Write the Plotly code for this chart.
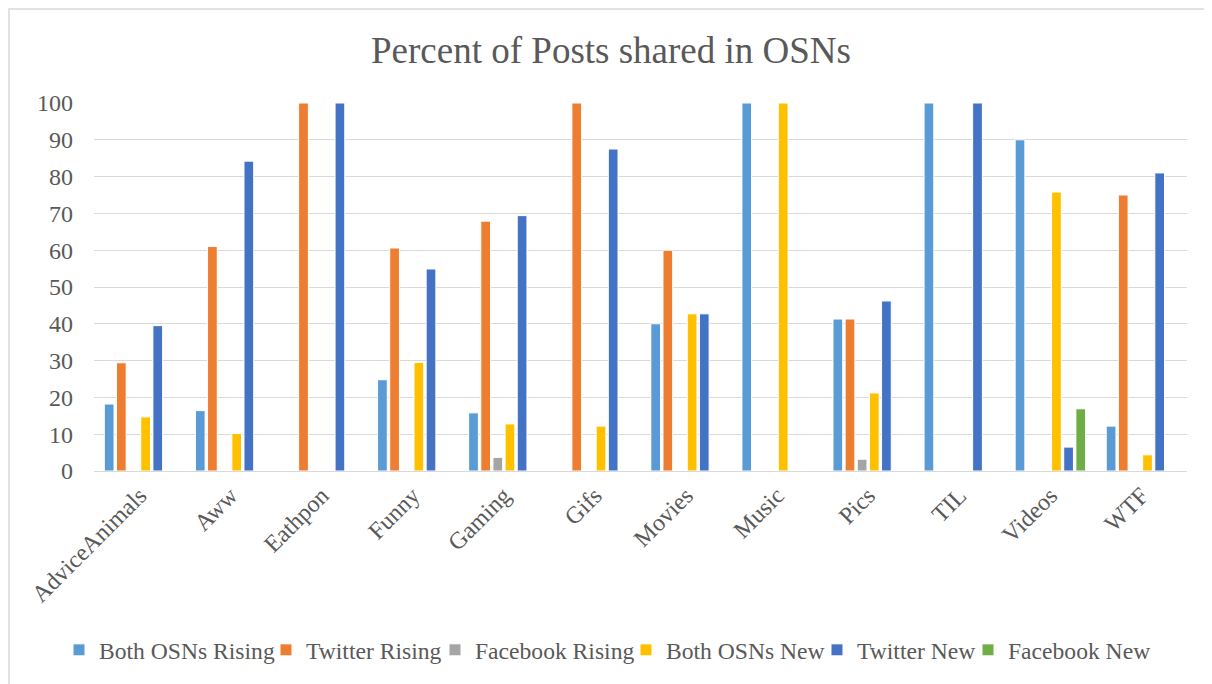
import plotly.graph_objects as go

categories = ["AdviceAnimals", "Aww", "Eathpon", "Funny", "Gaming", "Gifs",
              "Movies", "Music", "Pics", "TIL", "Videos", "WTF"]

both_rising = [18.2, 16.4, 0, 24.8, 15.8, 0, 40, 100, 41.3, 100, 90, 12.2]
twitter_rising = [29.4, 61, 100, 60.6, 67.9, 100, 60, 0, 41.3, 0, 0, 75]
facebook_rising = [0, 0, 0, 0, 3.7, 0, 0, 0, 3.2, 0, 0, 0]
both_new = [14.7, 10.2, 0, 29.5, 12.8, 12.2, 42.7, 100, 21.2, 0, 75.8, 4.4]
twitter_new = [39.5, 84.2, 100, 54.9, 69.4, 87.5, 42.7, 0, 46.2, 100, 6.5, 81]
facebook_new = [0, 0, 0, 0, 0, 0, 0, 0, 0, 0, 16.9, 0]

series = [
    ("Both OSNs Rising", both_rising, "#5B9BD5"),
    ("Twitter Rising", twitter_rising, "#ED7D31"),
    ("Facebook Rising", facebook_rising, "#A5A5A5"),
    ("Both OSNs New", both_new, "#FFC000"),
    ("Twitter New", twitter_new, "#4472C4"),
    ("Facebook New", facebook_new, "#70AD47"),
]

FONT = "Liberation Serif"
TXT = "#595959"

# the page body adds an 8px offset, so the figure is 8px smaller than the window
W, H = 1204, 676
L, R, T, B = 86, 25, 95, 213
PW, PH = W - L - R, H - T - B

# left edge (figure px) of each legend entry's text
legend_text_x = [91, 298, 467, 658, 849, 1000]

fig = go.Figure()
layout_legends = {}
for i, (name, vals, color) in enumerate(series):
    key = "legend" if i == 0 else f"legend{i + 1}"
    fig.add_trace(go.Bar(
        x=categories, y=vals, name=name, legend=key,
        marker=dict(color=color, line=dict(color="white", width=1)),
    ))
    layout_legends[key] = dict(
        orientation="h", xref="container", yref="container",
        x=(legend_text_x[i] - 40) / W, xanchor="left",
        y=1 - 642 / H, yanchor="middle",
        font=dict(family=FONT, size=23.6, color=TXT),
        itemwidth=30, bgcolor="rgba(0,0,0,0)", borderwidth=0,
    )

fig.update_layout(
    width=W, height=H,
    margin=dict(l=L, r=R, t=T, b=B, autoexpand=False),
    paper_bgcolor="white", plot_bgcolor="white",
    barmode="group", bargap=0.2, bargroupgap=0.2,
    font=dict(family=FONT, color=TXT, size=24),
    title=dict(text="Percent of Posts shared in OSNs", x=603 / W, xref="container",
               y=1 - 42 / H, yref="container", xanchor="center", yanchor="middle",
               font=dict(family=FONT, size=37, color=TXT)),
    showlegend=True,
    **layout_legends,
)
fig.update_yaxes(range=[0, 100], dtick=10, showgrid=True, gridcolor="#d9d9d9", gridwidth=1,
                 zeroline=False, showline=False, ticks="", ticklabelstandoff=20,
                 automargin=False,
                 tickfont=dict(family=FONT, size=24, color=TXT))
fig.update_xaxes(showline=True, linecolor="#d9d9d9", linewidth=1, ticks="", tickangle=-45,
                 automargin=False,
                 tickfont=dict(family=FONT, size=24, color=TXT))

fig.add_shape(type="rect", xref="paper", yref="paper",
              x0=(1 - L) / PW, x1=(W + 10 - L) / PW,
              y0=(H - B - (H + 10)) / PH, y1=(H - B - 1) / PH,
              line=dict(color="#d9d9d9", width=1.5), fillcolor="rgba(0,0,0,0)", layer="below")

fig.write_html("out.html")
